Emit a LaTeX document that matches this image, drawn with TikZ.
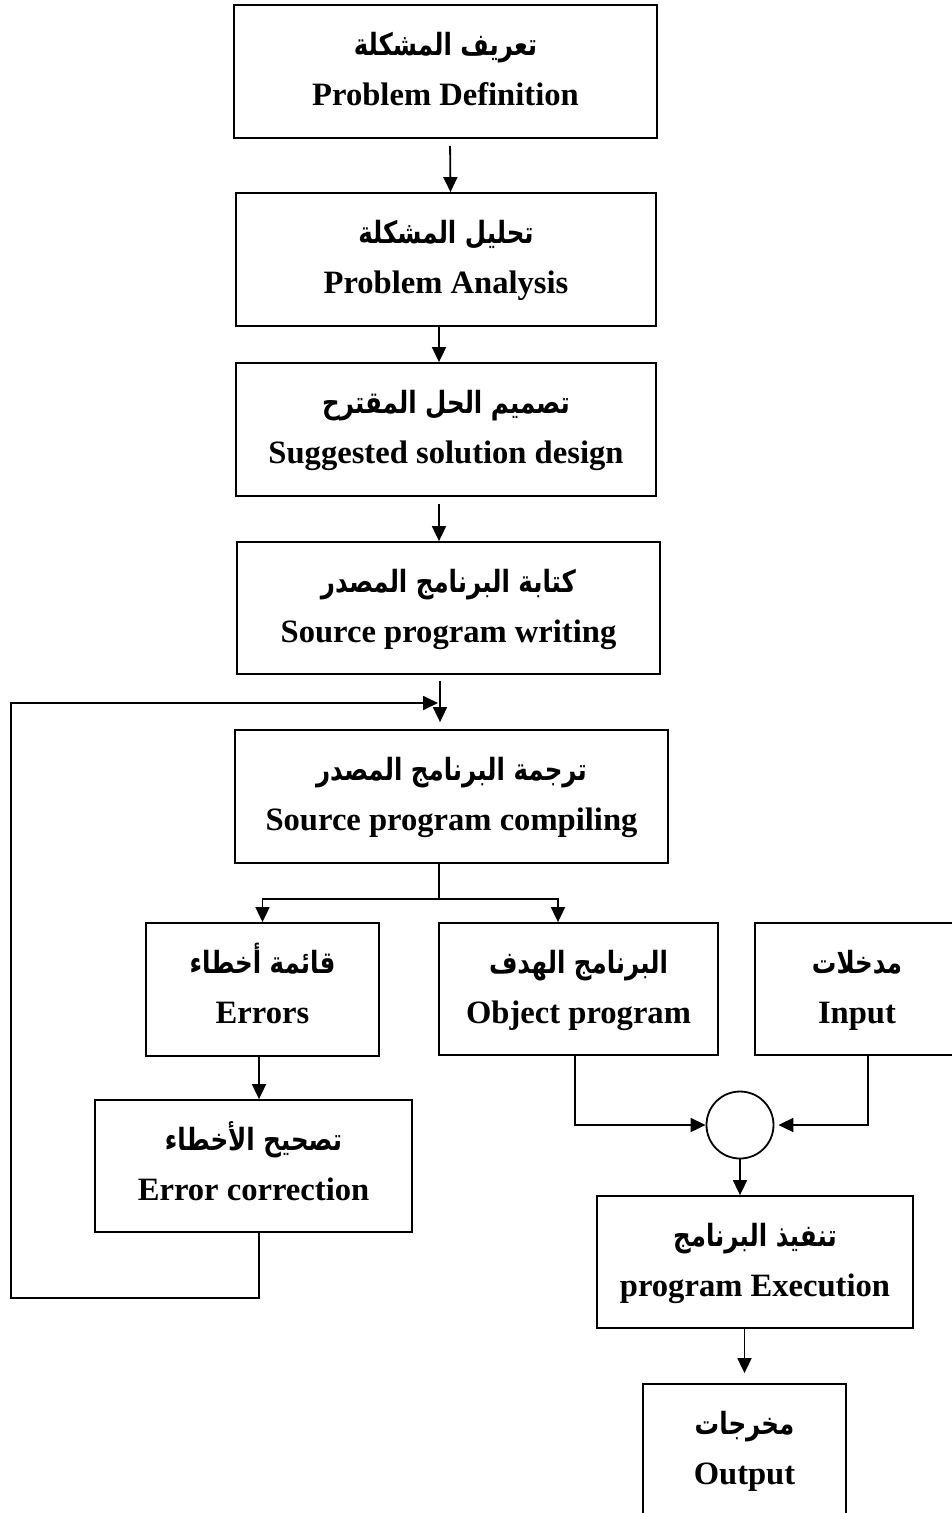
\documentclass[tikz,border=0pt]{standalone}
\usepackage{fontspec}
\setmainfont{Liberation Serif}
\newfontfamily\arabicfont[Script=Arabic]{DejaVu Sans}
\TeXXeTstate=1
\usetikzlibrary{arrows.meta}
\tikzset{
  boxshape/.style={draw, line width=1.8pt, rectangle, inner sep=0pt},
  entext/.style={font=\fontsize{32.6}{38}\selectfont\bfseries, inner sep=0pt, anchor=base},
  artext/.style={font=\fontsize{24.5}{30}\selectfont\arabicfont\bfseries, inner sep=0pt, anchor=base},
  conn/.style={line width=1.8pt},
  arr/.style={conn, -{Triangle[length=15pt,width=14pt]}},
}
\newcommand{\flowbox}[7]{%
  \node[boxshape, minimum width={#4-#2}, minimum height={#5-#3}] (#1) at ({(#2+#4)/2},{(#3+#5)/2}) {};
  \node[artext] (#1-ar) at ({(#2+#4)/2},{#3+50}) {\scalebox{1}[1.25]{#6}};
  \node[entext] (#1-en) at ({(#2+#4)/2},{#3+100}) {#7};
}
\begin{document}
\begin{tikzpicture}[x=1pt,y=-1pt]
\useasboundingbox (0,0) rectangle (951,1513);
\flowbox{b1}{234}{5}{657}{138}{\beginR تعريف المشكلة\endR}{Problem Definition}
\flowbox{b2}{236}{193}{656}{326}{\beginR تحليل المشكلة\endR}{Problem Analysis}
\flowbox{b3}{236}{363}{656}{496}{\beginR تصميم الحل المقترح\endR}{Suggested solution design}
\flowbox{b4}{237}{542}{660}{674}{\beginR كتابة البرنامج المصدر\endR}{Source program writing}
\flowbox{b5}{235}{730}{668}{863}{\beginR ترجمة البرنامج المصدر\endR}{Source program compiling}
\flowbox{err}{146}{923}{379}{1056}{\beginR قائمة أخطاء\endR}{Errors}
\flowbox{obj}{439}{923}{718}{1055}{\beginR البرنامج الهدف\endR}{Object program}
\flowbox{inp}{755}{923}{959}{1055}{\beginR مدخلات\endR}{Input}
\flowbox{corr}{95}{1100}{412}{1232}{\beginR تصحيح الأخطاء\endR}{Error correction}
\flowbox{exe}{597}{1196}{913}{1328}{\beginR تنفيذ البرنامج\endR}{program Execution}
\flowbox{out}{643}{1384}{846}{1530}{\beginR مخرجات\endR}{Output}
\node[circle, draw, line width=1.8pt, minimum size=67pt, inner sep=0pt] (circ) at (740,1125) {};

\coordinate (ax) at (439,0);
\coordinate (j) at (440,703);
\coordinate (split) at (439,899);
\coordinate (lc) at (11,1298);
\coordinate (lt) at (11,703);

\draw[arr, shorten <=7pt] ([xshift=4.5pt]b1.south) -- ([xshift=4.5pt]b2.north);
\draw[arr] (b2.south -| ax) -- (b3.north -| ax);
\draw[arr, shorten <=7pt] (b3.south -| ax) -- (b4.north -| ax);
\draw[arr, shorten <=6pt, shorten >=7pt] (b4.south -| j) -- (b5.north -| j);
\draw[conn] (b5.south -| split) -- (split);
\draw[arr] (split) -| (err.north);
\draw[arr] (split) -| ([xshift=-20.5pt]obj.north);
\draw[arr] ([xshift=-3.5pt]err.south) -- ([xshift=-3.5pt]err.south |- corr.north);
\draw[arr, shorten >=2pt] ([xshift=5.5pt]corr.south) |- (lc) -- (lt) -- (j);
\draw[arr] ([xshift=-3.5pt]obj.south) |- (circ.west);
\draw[arr, shorten >=4pt] ([xshift=11pt]inp.south) |- (circ.east);
\draw[arr] (circ.south) -- (circ.south |- exe.north);
\draw[arr, shorten >=10pt] (exe.south -| out.north) -- (out.north);
\end{tikzpicture}
\end{document}
